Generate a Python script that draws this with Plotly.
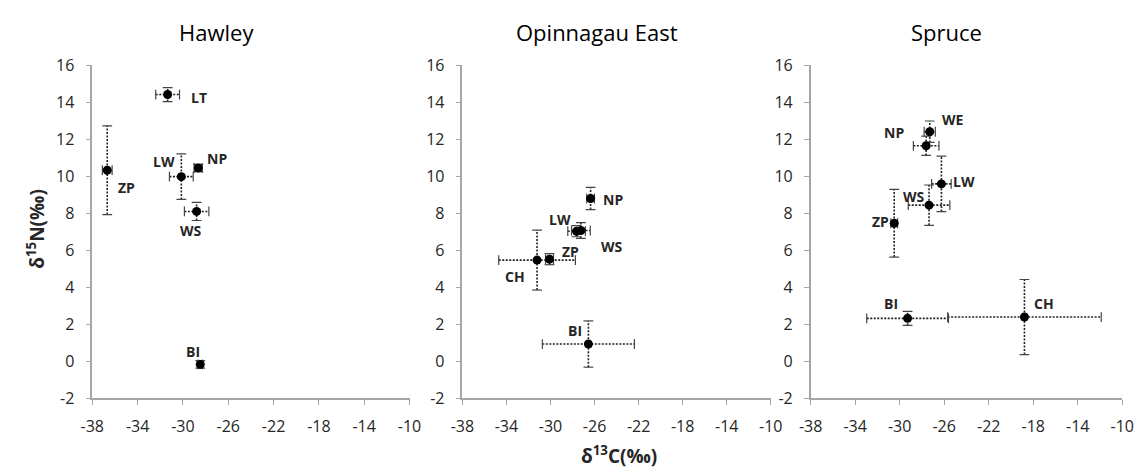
import plotly.graph_objects as go

# ---------------- data ----------------
hawley_labels = ["LT", "ZP", "LW", "NP", "WS", "BI"]
hawley_x = [-31.35, -36.68, -30.14, -28.65, -28.79, -28.47]
hawley_y = [14.41, 10.32, 9.97, 10.44, 8.09, -0.18]
hawley_xerr = [1.05, 0.43, 1.05, 0.36, 1.08, 0.20]
hawley_yerr = [0.38, 2.40, 1.23, 0.20, 0.49, 0.20]
hawley_lab_x = [-28.61, -34.98, -31.70, -27.03, -29.30, -29.08]
hawley_lab_y = [14.24, 9.41, 10.78, 10.94, 7.07, 0.51]

opin_labels = ["NP", "LW", "WS", "ZP", "CH", "BI"]
opin_x = [-26.36, -27.63, -27.24, -30.09, -31.22, -26.56]
opin_y = [8.79, 7.02, 7.06, 5.51, 5.46, 0.92]
opin_xerr = [0.35, 0.80, 0.85, 0.36, 3.48, 4.18]
opin_yerr = [0.60, 0.30, 0.43, 0.30, 1.62, 1.25]
opin_lab_x = [-24.28, -29.11, -24.42, -28.20, -33.24, -27.73]
opin_lab_y = [8.71, 7.67, 6.18, 5.95, 4.55, 1.66]

spruce_labels = ["WE", "NP", "LW", "WS", "ZP", "BI", "CH"]
spruce_x = [-27.30, -27.62, -26.25, -27.36, -30.49, -29.29, -18.79]
spruce_y = [12.40, 11.64, 9.58, 8.43, 7.45, 2.31, 2.38]
spruce_xerr = [0.50, 1.15, 0.88, 1.87, 0.30, 3.67, 6.90]
spruce_yerr = [0.58, 0.52, 1.50, 1.09, 1.83, 0.38, 2.03]
spruce_lab_x = [-25.19, -30.52, -24.23, -28.70, -31.68, -30.81, -17.07]
spruce_lab_y = [13.04, 12.35, 9.69, 8.88, 7.55, 3.09, 3.09]

panel_titles = ["Hawley", "Opinnagau East", "Spruce"]
x_ticks = [-38, -34, -30, -26, -22, -18, -14, -10]
y_ticks = [-2, 0, 2, 4, 6, 8, 10, 12, 14, 16]

panels = [
    (hawley_labels, hawley_x, hawley_y, hawley_xerr, hawley_yerr, hawley_lab_x, hawley_lab_y),
    (opin_labels, opin_x, opin_y, opin_xerr, opin_yerr, opin_lab_x, opin_lab_y),
    (spruce_labels, spruce_x, spruce_y, spruce_xerr, spruce_yerr, spruce_lab_x, spruce_lab_y),
]

# ---------------- layout geometry ----------------
W, H = 1147, 471
x_dom_px = [(82, 406), (460, 775), (815.7, 1134)]
y_dom = [65 / H, (H - 56.8) / H]
title_px = [209, 597, 954]

FONT = "Open Sans"
AXIS_GREY = "#a6a6a6"
TXT = "#262626"

fig = go.Figure()
annotations = []

for i, (labs, xs, ys, xe, ye, lx, ly) in enumerate(panels):
    suffix = "" if i == 0 else str(i + 1)
    xa, ya = "x" + suffix, "y" + suffix

    # x error whiskers
    ex_x, ex_y, cap_x, cap_y = [], [], [], []
    for x, y, e in zip(xs, ys, xe):
        ex_x += [x - e, x + e, None]
        ex_y += [y, y, None]
        cap_x += [x - e, x + e]
        cap_y += [y, y]
    # y error whiskers
    ey_x, ey_y, capy_x, capy_y = [], [], [], []
    for x, y, e in zip(xs, ys, ye):
        ey_x += [x, x, None]
        ey_y += [y - e, y + e, None]
        capy_x += [x, x]
        capy_y += [y - e, y + e]

    fig.add_trace(go.Scatter(x=ex_x, y=ex_y, mode="lines", xaxis=xa, yaxis=ya,
                             line=dict(color="#222222", width=1.6, dash="2px,1.5px"),
                             hoverinfo="skip", showlegend=False))
    fig.add_trace(go.Scatter(x=ey_x, y=ey_y, mode="lines", xaxis=xa, yaxis=ya,
                             line=dict(color="#222222", width=1.6, dash="2px,1.5px"),
                             hoverinfo="skip", showlegend=False))
    fig.add_trace(go.Scatter(x=cap_x, y=cap_y, mode="markers", xaxis=xa, yaxis=ya,
                             marker=dict(symbol="line-ns", size=7,
                                         line=dict(color="#444444", width=1.2)),
                             hoverinfo="skip", showlegend=False))
    fig.add_trace(go.Scatter(x=capy_x, y=capy_y, mode="markers", xaxis=xa, yaxis=ya,
                             marker=dict(symbol="line-ew", size=7,
                                         line=dict(color="#444444", width=1.2)),
                             hoverinfo="skip", showlegend=False))
    fig.add_trace(go.Scatter(x=xs, y=ys, mode="markers", xaxis=xa, yaxis=ya,
                             marker=dict(symbol="circle", size=9, color="black"),
                             text=labs, showlegend=False))

    for t, x, y in zip(labs, lx, ly):
        annotations.append(dict(x=x, y=y, xref=xa, yref=ya, text="<b>" + t + "</b>",
                                showarrow=False, xanchor="center", yanchor="middle",
                                font=dict(family=FONT, size=14, color=TXT)))

    axis_common = dict(showline=True, linecolor=AXIS_GREY, linewidth=1.5,
                       ticks="outside", tickcolor=AXIS_GREY, ticklen=5, tickwidth=1.2,
                       showgrid=False, zeroline=False,
                       tickfont=dict(family=FONT, size=16, color=TXT))
    x0, x1 = x_dom_px[i]
    fig.update_layout(**{
        "xaxis" + suffix: dict(domain=[x0 / W, x1 / W], range=[-38, -10],
                               tickvals=x_ticks, ticktext=[str(v) for v in x_ticks],
                               anchor=ya, ticklabelstandoff=8, **axis_common),
        "yaxis" + suffix: dict(domain=y_dom, range=[-2, 16], tickvals=y_ticks,
                               ticktext=[str(v) for v in y_ticks],
                               anchor=xa, ticklabelstandoff=8, **axis_common),
    })

    annotations.append(dict(x=title_px[i] / W, y=(H - 22) / H, xref="paper", yref="paper",
                            text=panel_titles[i], showarrow=False,
                            xanchor="center", yanchor="middle",
                            font=dict(family=FONT, size=22, color="black")))

annotations.append(dict(x=620 / W, y=(H - 466) / H, xref="paper", yref="paper",
                        text="<b>δ<sup>13</sup>C(‰)</b>", showarrow=False,
                        xanchor="center", yanchor="middle",
                        font=dict(family=FONT, size=19, color=TXT)))
annotations.append(dict(x=25 / W, y=(H - 228) / H, xref="paper", yref="paper",
                        text="<b>δ<sup>15</sup>N(‰)</b>", showarrow=False, textangle=-90,
                        xanchor="center", yanchor="middle",
                        font=dict(family=FONT, size=19, color=TXT)))

fig.update_layout(width=W, height=H, margin=dict(l=0, r=0, t=0, b=0),
                  paper_bgcolor="white", plot_bgcolor="white",
                  annotations=annotations, showlegend=False)

fig.write_html("out.html")
